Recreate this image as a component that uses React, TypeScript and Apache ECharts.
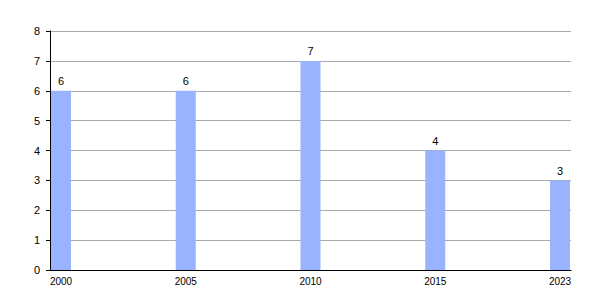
import React, { useEffect, useRef } from "react";
import * as echarts from "echarts";

const categories = ["2000", "2005", "2010", "2015", "2023"];
const values = [6, 6, 7, 4, 3];
const yTicks = { min: 0, max: 8, interval: 1 };

export default function App() {
  const ref = useRef<HTMLDivElement>(null);
  useEffect(() => {
    if (!ref.current) return;
    const chart = echarts.init(ref.current, undefined, { renderer: "svg" });
    const font = "Liberation Sans, Arial, sans-serif";
    chart.setOption({
      animation: false,
      backgroundColor: "#ffffff",
      grid: [
        { left: 50, right: 29, top: 31, bottom: 30 },
        { left: 61, right: 40, top: 31, bottom: 30 },
      ],
      xAxis: [
        {
          type: "value",
          gridIndex: 0,
          min: 0,
          max: 1,
          axisLine: { show: true, onZero: false, lineStyle: { color: "#000", width: 1 } },
          axisTick: { show: false },
          axisLabel: { show: false },
          splitLine: { show: false },
        },
        {
          type: "category",
          gridIndex: 1,
          data: categories,
          boundaryGap: false,
          axisLine: { show: false },
          axisTick: { show: false },
          axisLabel: { color: "#000", fontSize: 10, fontFamily: font, margin: 6 },
          splitLine: { show: false },
        },
      ],
      yAxis: [
        {
          type: "value",
          gridIndex: 0,
          min: yTicks.min,
          max: yTicks.max,
          interval: yTicks.interval,
          axisLine: { show: true, lineStyle: { color: "#000", width: 1 } },
          axisTick: { show: true, length: 4, lineStyle: { color: "#000" } },
          axisLabel: { color: "#000", fontSize: 11, fontFamily: font, margin: 10 },
          splitLine: { show: true, lineStyle: { color: "#aaaaaa", width: 1 } },
        },
        {
          type: "value",
          gridIndex: 1,
          min: yTicks.min,
          max: yTicks.max,
          interval: yTicks.interval,
          show: false,
        },
      ],
      series: [
        {
          type: "bar",
          xAxisIndex: 1,
          yAxisIndex: 1,
          data: values,
          barWidth: 20,
          itemStyle: { color: "#99b3ff" },
          label: {
            show: true,
            position: "top",
            color: "#000",
            fontSize: 11,
            fontFamily: font,
            distance: 4,
          },
        },
      ],
    });
    return () => chart.dispose();
  }, []);
  return (
    <div
      ref={ref}
      style={{ position: "fixed", left: 0, top: 0, width: 600, height: 300 }}
    />
  );
}
